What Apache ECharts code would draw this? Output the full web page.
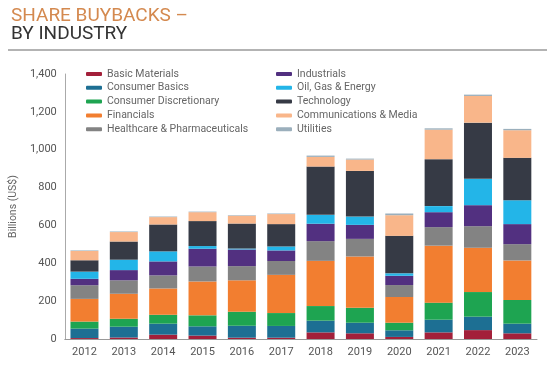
<!DOCTYPE html>
<html>
<head>
<meta charset="utf-8">
<script src="https://cdn.jsdelivr.net/npm/echarts@6/dist/echarts.min.js"></script>
<style>html,body{margin:0;padding:0;background:#fff;}#c{width:547px;height:366px;}</style>
</head>
<body>
<div id="c"></div>
<script>
var years = ['2012','2013','2014','2015','2016','2017','2018','2019','2020','2021','2022','2023'];
var basicMaterials   = [5, 8, 23, 18, 7, 7, 35, 30, 11, 35, 47, 30];
var consumerBasics   = [50, 57, 58, 49, 63, 62, 62, 56, 35, 67, 71, 51];
var consumerDisc     = [37, 42, 47, 58, 74, 68, 77, 79, 40, 90, 130, 125];
var financials       = [120, 132, 139, 179, 166, 202, 239, 271, 136, 301, 234, 209];
var healthcare       = [72, 71, 69, 79, 75, 73, 104, 93, 63, 98, 114, 86];
var industrials      = [34, 54, 74, 94, 88, 56, 92, 74, 49, 79, 111, 106];
var oilGas           = [38, 55, 53, 14, 5, 21, 47, 44, 13, 32, 139, 126];
var technology       = [60, 96, 142, 132, 132, 118, 255, 241, 198, 248, 297, 224];
var communications   = [49, 50, 39, 47, 41, 53, 51, 60, 109, 156, 141, 146];
var utilities        = [3, 3, 3, 3, 3, 3, 7, 5, 9, 7, 7, 7];
var yTicks = [0, 200, 400, 600, 800, 1000, 1200, 1400];

var seriesDefs = [
  ['Basic Materials', basicMaterials, '#A3203A'],
  ['Consumer Basics', consumerBasics, '#1D6F93'],
  ['Consumer Discretionary', consumerDisc, '#1EA451'],
  ['Financials', financials, '#F27E30'],
  ['Healthcare & Pharmaceuticals', healthcare, '#838383'],
  ['Industrials', industrials, '#523080'],
  ['Oil, Gas & Energy', oilGas, '#23B5E8'],
  ['Technology', technology, '#363A45'],
  ['Communications & Media', communications, '#F9B68A'],
  ['Utilities', utilities, '#9BAFBC']
];

var chart = echarts.init(document.getElementById('c'), null, {renderer: 'canvas'});
var legendCommon = {
  orient: 'vertical', top: 63, itemWidth: 16, itemHeight: 4, itemGap: 1.8,
  icon: 'roundRect', selectedMode: false,
  textStyle: {fontFamily: 'Roboto', fontSize: 10.5, color: '#666', lineHeight: 12}
};
var option = {
  animation: false,
  textStyle: {fontFamily: 'Roboto'},
  title: {
    left: 6, top: 2,
    text: '{a|SHARE BUYBACKS –}\n{b|BY INDUSTRY}',
    textStyle: {
      fontWeight: 'normal',
      rich: {
        a: {fontFamily: 'Roboto', fontSize: 19, fontWeight: 'normal', color: '#D4894F', lineHeight: 18},
        b: {fontFamily: 'Roboto', fontSize: 19, fontWeight: 'normal', color: '#333', lineHeight: 18}
      }
    }
  },
  graphic: [{
    type: 'line', shape: {x1: 8, y1: 50, x2: 547, y2: 50},
    style: {stroke: '#9a9a9a', lineWidth: 1.5}
  }],
  legend: [
    Object.assign({left: 81, data: seriesDefs.slice(0,5).map(function(d){return d[0];})}, legendCommon),
    Object.assign({left: 271, data: seriesDefs.slice(5).map(function(d){return d[0];})}, legendCommon)
  ],
  grid: {left: 58, top: 74, width: 479, height: 265, containLabel: false},
  xAxis: {
    type: 'category', data: years,
    axisLine: {lineStyle: {color: '#999'}},
    axisTick: {show: false},
    axisLabel: {color: '#555', fontSize: 11, margin: 8}
  },
  yAxis: {
    type: 'value', min: yTicks[0], max: yTicks[yTicks.length-1], interval: 200,
    name: 'Billions (US$)', nameLocation: 'middle', nameGap: 42,
    nameTextStyle: {color: '#666', fontSize: 10.5},
    axisLine: {show: true, lineStyle: {color: '#aaa'}},
    axisTick: {show: false},
    splitLine: {show: false},
    axisLabel: {color: '#555', fontSize: 11, margin: 8,
      formatter: function(v){ return v.toLocaleString('en-US'); }}
  },
  series: seriesDefs.map(function(d){
    return {name: d[0], type: 'bar', stack: 'total', data: d[1], barWidth: 28,
      itemStyle: {color: d[2]}};
  })
};
chart.setOption(option);
</script>
</body>
</html>
